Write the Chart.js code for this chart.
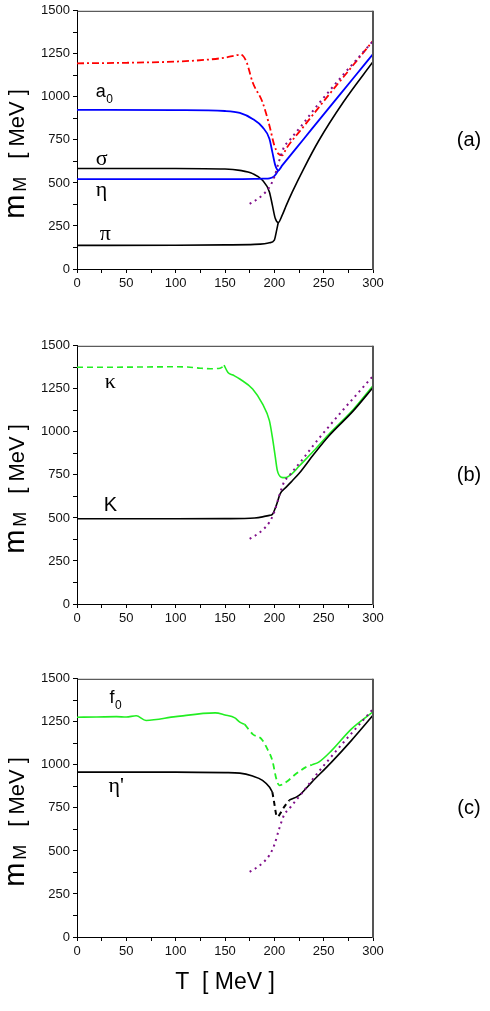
<!DOCTYPE html>
<html>
<head>
<meta charset="utf-8">
<script src="https://cdn.jsdelivr.net/npm/chart.js@4.4.0/dist/chart.umd.min.js"></script>
<style>
  html, body { margin: 0; padding: 0; background: #fff; }
  #wrap { position: relative; width: 490px; height: 1011px; overflow: hidden; }
  #wrap canvas { position: absolute; left: 0; }
</style>
</head>
<body>
<div id="wrap">
  <canvas id="panelA" width="490" height="300" style="top:0px"></canvas>
  <canvas id="panelB" width="490" height="300" style="top:335px"></canvas>
  <canvas id="panelC" width="490" height="343" style="top:668px"></canvas>
</div>
<script>
// ---- data (T in MeV, meson masses in MeV) ----

// shared dotted reference curve (same in all panels)
const dotT = [175, 180, 185, 190, 195, 200, 205, 210, 215, 220, 230, 240, 250, 260, 270, 280, 290, 300];
const dotM = [378, 395, 415, 440, 475, 535, 630, 710, 745, 780, 850, 925, 995, 1063, 1130, 1195, 1260, 1325];

// panel (a)
const redT = [0, 50, 100, 130, 150, 160, 165, 168, 172, 178, 188, 195, 200, 204, 208, 212, 230, 255, 280, 300];
const redM = [1195, 1198, 1205, 1215, 1228, 1240, 1245, 1240, 1200, 1085, 969, 834, 718, 670, 660, 699, 830, 1010, 1185, 1326];
const a0T = [0, 100, 150, 165, 178, 188, 195, 198, 201, 204, 208, 230, 255, 280, 300];
const a0M = [925, 923, 918, 907, 872, 824, 757, 679, 602, 573, 602, 757, 933, 1108, 1249];
const etaT = [0, 100, 150, 180, 190, 195, 200, 204];
const etaM = [522, 522, 522, 523, 525, 527, 540, 573];
const sigmaT = [0, 100, 150, 165, 178, 188, 195, 198, 201, 204, 208, 212, 218, 230, 245, 270, 300];
const sigmaM = [584, 584, 581, 573, 554, 515, 448, 371, 293, 270, 313, 368, 445, 585, 745, 970, 1204];
const piT = [0, 100, 150, 180, 190, 195, 200, 202, 204];
const piM = [137, 138, 140, 143, 147, 152, 168, 216, 270];

// panel (b)
const kappaDashT = [0, 50, 100, 112, 125, 135, 145, 149];
const kappaDashM = [1375, 1376, 1378, 1377, 1370, 1367, 1370, 1383];
const kappaT = [149, 153, 158, 165, 178, 188, 195, 198, 201, 203, 207, 211, 218, 225, 240, 255, 280, 300];
const kappaM = [1388, 1345, 1330, 1307, 1249, 1162, 1065, 969, 853, 776, 737, 734, 757, 800, 890, 985, 1130, 1268];
const kaonT = [0, 100, 150, 180, 188, 195, 198, 202, 206, 212, 218, 225, 240, 255, 280, 300];
const kaonM = [495, 495, 496, 500, 506, 515, 521, 573, 641, 679, 715, 758, 870, 975, 1122, 1258];

// panel (c)
const f0T = [0, 20, 40, 50, 60, 70, 100, 140, 150, 160, 165, 170];
const f0M = [1277, 1278, 1280, 1278, 1285, 1258, 1280, 1302, 1290, 1273, 1248, 1235];
const f0DashT = [170, 178, 187, 193, 198, 202, 205, 212, 222, 232, 238];
const f0DashM = [1235, 1179, 1150, 1092, 1025, 919, 881, 900, 948, 987, 1000];
const f0HighT = [238, 245, 258, 278, 300];
const f0HighM = [1000, 1016, 1083, 1208, 1308];
const etapT = [0, 100, 150, 165, 178, 188, 195, 198];
const etapM = [958, 958, 955, 952, 935, 910, 871, 842];
const etapDashT = [198, 200, 202, 203, 207, 210, 215];
const etapDashM = [842, 775, 708, 698, 727, 756, 794];
const etapHighT = [215, 225, 238, 258, 278, 300];
const etapHighM = [794, 823, 900, 1016, 1141, 1288];

// axis ticks
const xMajor = [0, 50, 100, 150, 200, 250, 300];
const yMajor = [0, 250, 500, 750, 1000, 1250, 1500];

// ---- helpers ----
const SANS = '"Liberation Sans", Arial, Helvetica, sans-serif';
const SERIF = '"Liberation Serif", "Times New Roman", serif';

function pts(xs, ys) {
    return xs.map((x, i) => ({ x: x, y: ys[i] }));
}

function line(label, xs, ys, color, width, dash) {
    return {
        label: label,
        data: pts(xs, ys),
        borderColor: color,
        borderWidth: width,
        borderDash: dash || [],
        pointRadius: 0,
        fill: false,
        cubicInterpolationMode: 'monotone'
    };
}

function dotted() {
    return line('dotted', dotT, dotM, '#80108a', 2, [2, 4]);
}

// box around plot area (top and right edges)
const framePlugin = {
    id: 'frame',
    afterDraw(chart) {
        const { ctx, chartArea: a } = chart;
        ctx.save();
        ctx.strokeStyle = '#333';
        ctx.lineWidth = 1;
        ctx.beginPath();
        ctx.moveTo(a.left, a.top + 0.5);
        ctx.lineTo(a.right, a.top + 0.5);
        ctx.stroke();
        ctx.strokeStyle = '#555';
        ctx.lineWidth = 2;
        ctx.beginPath();
        ctx.moveTo(a.right, a.top);
        ctx.lineTo(a.right, a.bottom + 1);
        ctx.stroke();
        ctx.restore();
    }
};

// curve labels, panel tag and the rotated y title
const textPlugin = {
    id: 'texts',
    afterDraw(chart, args, opts) {
        const { ctx, chartArea: a, scales } = chart;
        ctx.save();
        ctx.fillStyle = '#000';
        ctx.textBaseline = 'alphabetic';
        ctx.textAlign = 'left';

        (opts.items || []).forEach(it => {
            const px = scales.x.getPixelForValue(it.x);
            const py = scales.y.getPixelForValue(it.y);
            ctx.font = it.font;
            ctx.fillText(it.text, px, py);
            if (it.sub) {
                const w = ctx.measureText(it.text).width;
                ctx.font = it.subFont;
                ctx.fillText(it.sub, px + w + 0.5, py + 6);
            }
        });

        // panel tag
        ctx.font = '20px ' + SANS;
        ctx.textAlign = 'center';
        ctx.textBaseline = 'middle';
        ctx.fillText(opts.tag, 469, a.top + 130);

        // y title: m_M [ MeV ], reading bottom to top
        ctx.translate(24, a.top);
        ctx.rotate(-Math.PI / 2);
        ctx.textAlign = 'left';
        ctx.textBaseline = 'alphabetic';
        ctx.font = '29px ' + SANS;
        ctx.fillText('m', -208, 0);
        ctx.font = '18px ' + SANS;
        ctx.fillText('M', -181, 2);
        ctx.font = '22px ' + SANS;
        ctx.fillText('[ MeV ]', -148, 0);
        ctx.restore();
    }
};

function makeChart(canvasId, datasets, items, tag, withTitle) {
    const canvas = document.getElementById(canvasId);
    const xHeight = canvas.height - 269;
    return new Chart(canvas.getContext('2d'), {
        type: 'line',
        data: { datasets: datasets },
        options: {
            responsive: false,
            devicePixelRatio: 1,
            animation: false,
            events: [],
            layout: { padding: { left: 0, right: 117, top: 10, bottom: 0 } },
            plugins: {
                legend: { display: false },
                tooltip: { enabled: false },
                texts: { items: items, tag: tag }
            },
            scales: {
                x: {
                    type: 'linear',
                    min: 0,
                    max: 300,
                    afterFit: s => { s.height = xHeight; },
                    border: { display: true, color: '#000', width: 1 },
                    grid: { drawOnChartArea: false, drawTicks: true, tickLength: 4, tickColor: '#000', tickWidth: 1 },
                    ticks: {
                        stepSize: 25,
                        autoSkip: false,
                        maxRotation: 0,
                        padding: 3,
                        color: '#111',
                        font: { family: SANS, size: 13 },
                        callback: v => xMajor.includes(v) ? String(v) : ''
                    },
                    title: {
                        display: withTitle,
                        text: 'T  [ MeV ]',
                        color: '#000',
                        font: { family: SANS, size: 23 },
                        padding: { top: 4, bottom: 15 }
                    }
                },
                y: {
                    type: 'linear',
                    min: 0,
                    max: 1500,
                    afterFit: s => { s.width = 77; },
                    border: { display: true, color: '#000', width: 1 },
                    grid: { drawOnChartArea: false, drawTicks: true, tickLength: 4, tickColor: '#000', tickWidth: 1 },
                    ticks: {
                        stepSize: 125,
                        autoSkip: false,
                        padding: 3,
                        color: '#111',
                        font: { family: SANS, size: 13 },
                        callback: v => yMajor.includes(v) ? String(v) : ''
                    }
                }
            }
        },
        plugins: [framePlugin, textPlugin]
    });
}

const latin = '18px ' + SANS;
const latinSub = '12px ' + SANS;
const greek = '22px ' + SERIF;

// (a) scalar / pseudoscalar nonstrange sector
makeChart('panelA', [
    dotted(),
    line('a0 (dash-dot)', redT, redM, '#ff0000', 1.8, [7, 3, 2, 3]),
    line('a0', a0T, a0M, '#0000ff', 1.8),
    line('eta', etaT, etaM, '#0000ff', 1.8),
    line('sigma', sigmaT, sigmaM, '#000000', 1.6),
    line('pi', piT, piM, '#000000', 1.6)
], [
    { x: 19, y: 1000, text: 'a', sub: '0', font: latin, subFont: latinSub },
    { x: 19, y: 605, text: 'σ', font: greek },
    { x: 19, y: 425, text: 'η', font: greek },
    { x: 23, y: 168, text: 'π', font: greek }
], '(a)', false);

// (b) strange sector
makeChart('panelB', [
    dotted(),
    line('kappa (dashed)', kappaDashT, kappaDashM, '#22ee22', 1.6, [6, 4]),
    line('K', kaonT, kaonM, '#000000', 1.6),
    line('kappa', kappaT, kappaM, '#22ee22', 1.6)
], [
    { x: 28, y: 1256, text: 'κ', font: greek },
    { x: 27, y: 538, text: 'K', font: '20px ' + SANS }
], '(b)', false);

// (c) f0 and eta'
makeChart('panelC', [
    dotted(),
    line('f0', f0T, f0M, '#22ee22', 1.6),
    line('f0 (dashed)', f0DashT, f0DashM, '#22ee22', 1.8, [6, 4]),
    line('f0 high T', f0HighT, f0HighM, '#22ee22', 1.6),
    line("eta'", etapT, etapM, '#000000', 1.6),
    line("eta' (dashed)", etapDashT, etapDashM, '#000000', 2, [5, 4]),
    line("eta' high T", etapHighT, etapHighM, '#000000', 1.6)
], [
    { x: 33, y: 1362, text: 'f', sub: '0', font: latin, subFont: latinSub },
    { x: 32, y: 840, text: "η'", font: greek }
], '(c)', true);
</script>
</body>
</html>
